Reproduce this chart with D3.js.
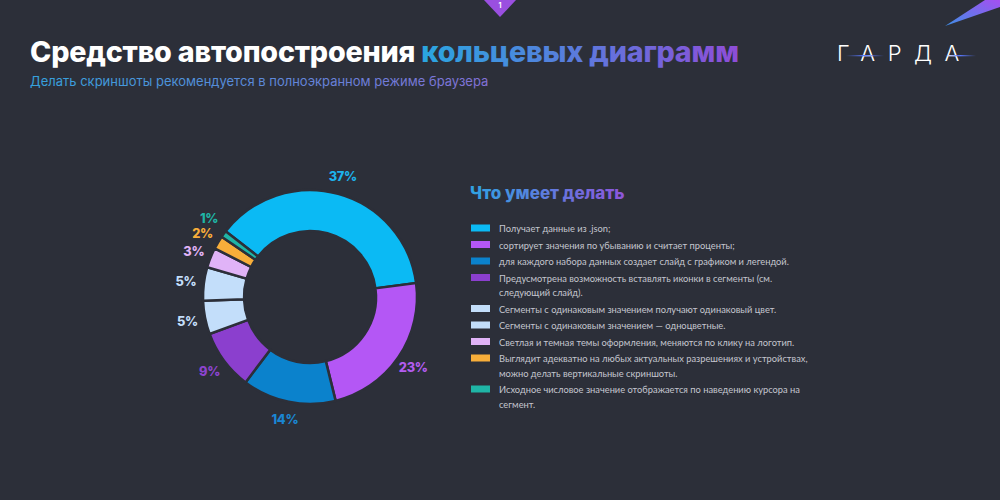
<!DOCTYPE html>
<html><head><meta charset="utf-8">
<script src="https://cdn.jsdelivr.net/npm/d3@7"></script>
<style>
html,body{margin:0;padding:0;background:#2c2f39;}
svg{display:block;}
</style></head>
<body>
<svg id="chart" width="1000" height="500"></svg>
<script>
// ---- data ----
const labels = [
  "Получает данные из .json;",
  "сортирует значения по убыванию и считает проценты;",
  "для каждого набора данных создает слайд с графиком и легендой.",
  "Предусмотрена возможность вставлять иконки в сегменты (см. следующий слайд).",
  "Сегменты с одинаковым значением получают одинаковый цвет.",
  "Сегменты с одинаковым значением — одноцветные.",
  "Светлая и темная темы оформления, меняются по клику на логотип.",
  "Выглядит адекватно на любых актуальных разрешениях и устройствах, можно делать вертикальные скриншоты.",
  "Исходное числовое значение отображается по наведению курсора на сегмент."
];
const values = [37, 23, 14, 9, 5, 5, 3, 2, 1];
const colors = ["#0bbaf4", "#b457f5", "#0b82cc", "#8b3fce", "#c3defa", "#c3defa", "#e0b3f7", "#f8ae3a", "#1fb5a6"];
const labelColors = ["#1db3ec", "#b35cf0", "#1a86d2", "#8d44cf", "#c3defa", "#c3defa", "#e0b3f7", "#f8ae3a", "#1fb5a6"];
const titleWhite = "Средство автопостроения ";
const titleColor = "кольцевых диаграмм";
const subtitle = "Делать скриншоты рекомендуется в полноэкранном режиме браузера";
const legendTitleA = "Что умеет ";
const legendTitleB = "делать";
const logoText = "ГАРДА";
const slideNumber = "1";

const svg = d3.select("#chart");
const bg = "#2c2f39";
svg.append("rect").attr("width",1000).attr("height",500).attr("fill",bg);
const defs = svg.append("defs");

function lg(id, stops, attrs){
  const g = defs.append("linearGradient").attr("id", id);
  Object.entries(attrs||{}).forEach(([k,v])=>g.attr(k,v));
  stops.forEach(s=>g.append("stop").attr("offset",s[0]).attr("stop-color",s[1]));
  return g;
}

// corner streak
lg("streak", [[0,"#3d8fe6"],[1,"#a54ff2"]], {x1:"0",y1:"1",x2:"1",y2:"0"});
svg.append("path").attr("d","M945,26 L985,0 L1000,0 L1000,7 Z").attr("fill","url(#streak)");

// slide marker
svg.append("path").attr("d","M484,0 L516,0 L500,17 Z").attr("fill","#9a4fe0");
svg.append("text").attr("x",500).attr("y",8).attr("text-anchor","middle")
  .attr("font-family","Inter, sans-serif").attr("font-weight",700).attr("font-size",7)
  .attr("fill","#fff").text(slideNumber);

// title
const title = svg.append("text").attr("x",30).attr("y",62)
  .attr("font-family","Inter, sans-serif").attr("font-weight",800).attr("font-size",28.7)
  .attr("letter-spacing","-0.2");
title.append("tspan").attr("fill","#ffffff").text(titleWhite);
const tg = lg("titleGrad", [[0,"#2aa6e0"],[1,"#8e4dd8"]], {gradientUnits:"userSpaceOnUse", x1:0,y1:0,x2:1,y2:0});
title.append("tspan").attr("fill","url(#titleGrad)").text(titleColor);
{
  const node = title.node();
  const n1 = titleWhite.length, n = node.getNumberOfChars();
  const x1 = node.getStartPositionOfChar(n1).x;
  const x2 = node.getEndPositionOfChar(n-1).x;
  tg.attr("x1",x1).attr("x2",x2);
}

// subtitle
lg("subGrad", [[0,"#35a2dd"],[1,"#8370d6"]], {x1:0,y1:0,x2:1,y2:0});
svg.append("text").attr("x",30).attr("y",86)
  .attr("font-family","Inter, sans-serif").attr("font-weight",400).attr("font-size",13)
  .attr("fill","url(#subGrad)").text(subtitle);

// logo
svg.append("text").attr("x",837).attr("y",60.5)
  .attr("font-family","Inter, sans-serif").attr("font-weight",300).attr("font-size",22)
  .attr("letter-spacing","12.5").attr("fill","#ffffff").text(logoText);
lg("logoLine1", [[0,"rgba(80,110,230,0)"],[0.5,"#5a78ff"],[1,"rgba(80,110,230,0)"]], {});
svg.append("rect").attr("x",846).attr("y",55).attr("width",38).attr("height",1.3).attr("fill","url(#logoLine1)");
svg.append("rect").attr("x",944).attr("y",55).attr("width",32).attr("height",1.3).attr("fill","url(#logoLine1)");

// donut
const cx = 310, cy = 297, rOuter = 107, rInner = 66, rLabel = 125;
const total = d3.sum(values);
const startDeg = 82.5 - values[0]/total*360;
const pie = d3.pie().sort(null).value(d=>d)
  .startAngle(startDeg*Math.PI/180).endAngle((startDeg+360)*Math.PI/180);
const arcs = pie(values);
const arc = d3.arc().innerRadius(rInner).outerRadius(rOuter);
const g = svg.append("g").attr("transform",`translate(${cx},${cy})`);
g.selectAll("path.seg").data(arcs).join("path").attr("class","seg")
  .attr("d",arc).attr("fill",(d,i)=>colors[i])
  .attr("stroke",bg).attr("stroke-width",2.5).attr("stroke-linejoin","miter");
const labelArc = d3.arc().innerRadius(rLabel).outerRadius(rLabel);
const pos = arcs.map(d=>labelArc.centroid(d));
// relax neighbouring small labels so they do not collide
const minSep = 15;
for (let i = pos.length-1; i > 0; i--) {
  const a = pos[i], b = pos[i-1];
  if (Math.abs(a[0]-b[0]) < 26 && Math.abs(a[1]-b[1]) < minSep) {
    a[1] = b[1] + (a[1] < b[1] ? -minSep : minSep);
  }
}
g.selectAll("text.pct").data(arcs).join("text").attr("class","pct")
  .attr("transform",(d,i)=>`translate(${pos[i]})`)
  .attr("text-anchor","middle").attr("dominant-baseline","central")
  .attr("font-family","Inter, sans-serif").attr("font-weight",800).attr("font-size",12.8)
  .attr("letter-spacing","-0.3")
  .attr("fill",(d,i)=>labelColors[i])
  .text(d=>Math.round(d.data/total*100) + "%");

// legend title
lg("legGrad", [[0,"#2fa3e2"],[1,"#8f55da"]], {x1:0,y1:0,x2:1,y2:0});
const lt = svg.append("text").attr("x",470).attr("y",199)
  .attr("font-family","Inter, sans-serif").attr("font-weight",800).attr("font-size",17)
  .attr("fill","url(#legGrad)");
lt.append("tspan").text(legendTitleA);
lt.append("tspan").text(legendTitleB);

// legend items
const lx = 471, tx = 499, wrapW = 316, lineH = 14.5, gap = 16.5;
let y = 228;
labels.forEach((lab,i)=>{
  svg.append("rect").attr("x",lx).attr("y",y-3.5).attr("width",19).attr("height",7).attr("fill",colors[i]);
  const t = svg.append("text").attr("x",tx).attr("y",y).attr("dominant-baseline","central")
    .attr("font-family","Lato, sans-serif").attr("font-size",9.3).attr("fill","#c4c6cf");
  const words = lab.split(" ");
  let line = [], ts = t.append("tspan").attr("x",tx).attr("dy",0), lines = 1;
  words.forEach(w=>{
    line.push(w);
    ts.text(line.join(" "));
    if (ts.node().getComputedTextLength() > wrapW && line.length>1){
      line.pop(); ts.text(line.join(" "));
      line=[w];
      ts = t.append("tspan").attr("x",tx).attr("dy",lineH).text(w);
      lines++;
    }
  });
  y += gap + (lines-1)*lineH;
});
</script>
</body></html>
